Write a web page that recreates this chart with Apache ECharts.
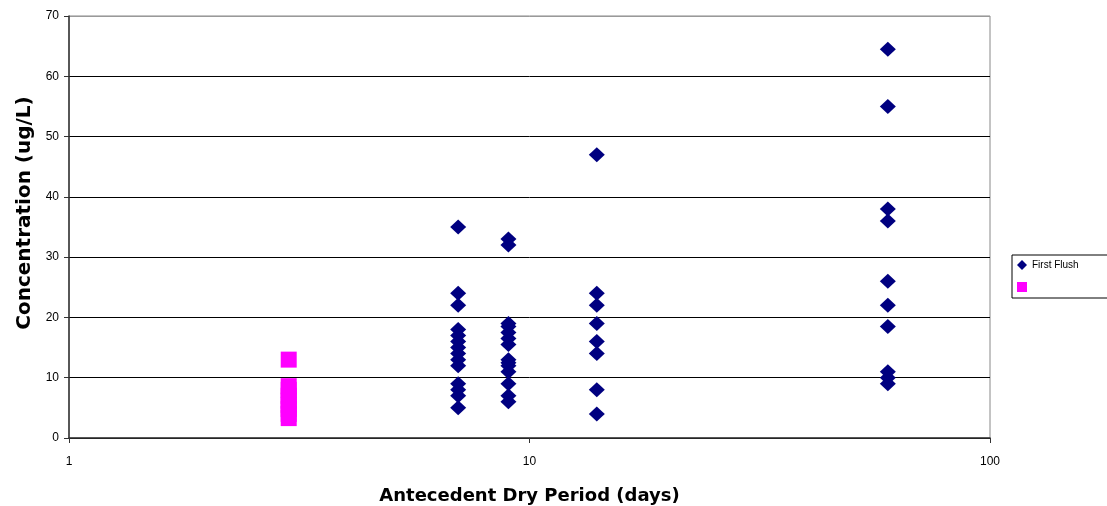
<!DOCTYPE html>
<html><head><meta charset="utf-8">
<script src="https://cdn.jsdelivr.net/npm/echarts@6/dist/echarts.min.js"></script>
<style>html,body{margin:0;padding:0;background:#fff}#c{width:1107px;height:506px}</style>
</head><body><div id="c"></div>
<script>
// Antecedent dry period (days) and concentrations (ug/L)
const firstFlushX = [7,7,7,7,7,7,7,7,7,7,7,7,7,7,
  9,9,9,9,9,9,9,9,9,9,9,9,9,9,
  14,14,14,14,14,14,14,14,
  60,60,60,60,60,60,60,60,60,60];
const firstFlushY = [35,24,22,18,17,16,15,14,13,12,9,8,7,5,
  33,32,19,18.5,17.5,16.5,15.5,13,12.5,12,11,9,7,6,
  47,24,22,19,16,14,8,4,
  64.5,55,38,36,26,22,18.5,11,10,9];
const otherX = [3,3,3,3,3,3,3,3,3];
const otherY = [13,8.6,8,7,6.2,5.5,4.8,4,3.3];
const yTicks = [0,10,20,30,40,50,60,70];

const pair = (xs, ys) => xs.map((x, i) => [x, ys[i]]);
const chart = echarts.init(document.getElementById('c'), null, {renderer: 'canvas'});
chart.setOption({
  animation: false,
  textStyle: {fontFamily: 'Liberation Sans, Arial, sans-serif'},
  grid: {left: 69, right: 117, top: 16, bottom: 68, containLabel: false, outerBoundsMode: 'none',
    show: true, borderColor: '#888', borderWidth: 1, backgroundColor: '#fff'},
  xAxis: {
    type: 'log', logBase: 10, min: 1, max: 100,
    name: 'Antecedent Dry Period (days)', nameLocation: 'middle', nameGap: 49,
    nameTextStyle: {fontSize: 18, fontWeight: 'bold', color: '#000', fontFamily: 'DejaVu Sans, sans-serif'},
    axisLine: {lineStyle: {color: '#333', width: 1.5}},
    axisTick: {show: true, length: 5, lineStyle: {color: '#333'}},
    minorTick: {show: false},
    axisLabel: {fontSize: 12, color: '#000', margin: 18},
    splitLine: {show: false}
  },
  yAxis: {
    type: 'value', min: yTicks[0], max: yTicks[yTicks.length - 1], interval: 10,
    name: 'Concentration (ug/L)', nameLocation: 'middle', nameGap: 26,
    nameTextStyle: {fontSize: 20, fontWeight: 'bold', color: '#000', fontFamily: 'DejaVu Sans, sans-serif',
      padding: [0, 0, 0, 28]},
    axisLine: {show: true, lineStyle: {color: '#333', width: 1.5}},
    axisTick: {show: true, length: 5, inside: false, lineStyle: {color: '#333'}},
    axisLabel: {fontSize: 12, color: '#000', margin: 10},
    splitLine: {show: true, lineStyle: {color: ['#000','#000','#000','#000','#000','#000','#000','#999'], width: 1}}
  },
  legend: {
    orient: 'vertical', left: 1012, top: 255,
    padding: [5, 40, 6, 5], itemGap: 12, itemWidth: 10, itemHeight: 10,
    borderColor: '#000', borderWidth: 1, backgroundColor: '#fff',
    textStyle: {fontSize: 10, color: '#000'},
    data: [{name: 'First Flush', icon: 'diamond'}, {name: ' ', icon: 'rect'}]
  },
  series: [
    {name: 'First Flush', type: 'scatter', symbol: 'diamond', symbolSize: [16, 15],
     itemStyle: {color: '#000080', opacity: 1}, data: pair(firstFlushX, firstFlushY), z: 3},
    {name: ' ', type: 'scatter', symbol: 'rect', symbolSize: [16, 16],
     itemStyle: {color: '#ff00ff', opacity: 1}, data: pair(otherX, otherY), z: 3}
  ]
});
</script></body></html>
